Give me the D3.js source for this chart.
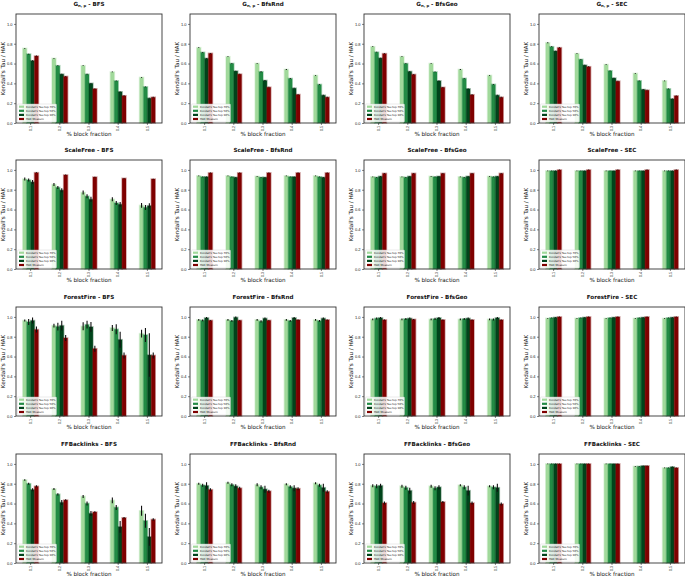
<!DOCTYPE html>
<html>
<head>
<meta charset="utf-8">
<script src="https://cdn.jsdelivr.net/npm/d3@7"></script>
<style>
  body { margin: 0; background: #fff; }
  svg { font-family: "DejaVu Sans", sans-serif; }
  .domain { display: none; }
</style>
</head>
<body>
<svg id="chart" width="685" height="578"></svg>
<script>
// categories
const fractions = ["0.1", "0.2", "0.3", "0.4", "0.5"];
const seriesNames = ["Kendall's Tau top 70%", "Kendall's Tau top 50%", "Kendall's Tau top 30%", "HAK Measure"];
const seriesColors = ["#a1d99b", "#238b45", "#00441b", "#7f0000"];
const graphNames = ["G", "ScaleFree", "ForestFire", "FFBacklinks"];
const methodNames = ["BFS", "BfsRnd", "BfsGeo", "SEC"];
const yTicks = [0, 0.2, 0.4, 0.6, 0.8, 1.0];

// values: one row per series (top70, top50, top30, HAK), one column per fraction
const gnpBFS = [[0.753, 0.652, 0.578, 0.515, 0.46], [0.696, 0.578, 0.492, 0.425, 0.365], [0.628, 0.493, 0.40, 0.315, 0.25], [0.676, 0.47, 0.345, 0.275, 0.26]];
const gnpBfsRnd = [[0.76, 0.669, 0.601, 0.54, 0.48], [0.713, 0.601, 0.517, 0.449, 0.389], [0.652, 0.524, 0.429, 0.351, 0.28], [0.703, 0.493, 0.361, 0.287, 0.26]];
const gnpBfsGeo = [[0.77, 0.67, 0.60, 0.54, 0.48], [0.715, 0.60, 0.515, 0.45, 0.39], [0.655, 0.52, 0.425, 0.345, 0.28], [0.70, 0.49, 0.36, 0.285, 0.26]];
const gnpSEC = [[0.81, 0.70, 0.59, 0.50, 0.426], [0.77, 0.642, 0.527, 0.426, 0.345], [0.726, 0.584, 0.453, 0.338, 0.243], [0.76, 0.568, 0.422, 0.331, 0.274]];

const sfBFS = [[0.908, 0.853, 0.771, 0.703, 0.642], [0.898, 0.823, 0.734, 0.666, 0.621], [0.877, 0.795, 0.703, 0.652, 0.638], [0.972, 0.949, 0.928, 0.915, 0.908]];
const sfBfsRnd = [[0.94, 0.94, 0.935, 0.94, 0.94], [0.93, 0.93, 0.925, 0.93, 0.93], [0.93, 0.925, 0.925, 0.93, 0.925], [0.97, 0.97, 0.97, 0.97, 0.97]];
const sfBfsGeo = [[0.93, 0.93, 0.935, 0.93, 0.935], [0.925, 0.925, 0.93, 0.925, 0.93], [0.935, 0.935, 0.935, 0.935, 0.935], [0.965, 0.965, 0.965, 0.965, 0.965]];
const sfSEC = [[0.99, 0.99, 0.99, 0.99, 0.99], [0.99, 0.99, 0.99, 0.99, 0.99], [0.99, 0.99, 0.99, 0.99, 0.99], [1.0, 1.0, 1.0, 1.0, 1.0]];

const ffBFS = [[0.963, 0.912, 0.905, 0.889, 0.831], [0.949, 0.902, 0.922, 0.875, 0.818], [0.963, 0.912, 0.899, 0.77, 0.615], [0.872, 0.787, 0.679, 0.611, 0.611]];
const ffBfsRnd = [[0.97, 0.97, 0.97, 0.97, 0.97], [0.965, 0.96, 0.955, 0.96, 0.96], [0.99, 0.995, 0.985, 0.99, 0.985], [0.965, 0.965, 0.965, 0.97, 0.97]];
const ffBfsGeo = [[0.975, 0.975, 0.975, 0.975, 0.975], [0.985, 0.98, 0.98, 0.98, 0.975], [0.99, 0.985, 0.99, 0.985, 0.99], [0.97, 0.975, 0.97, 0.97, 0.97]];
const ffSEC = [[0.985, 0.985, 0.985, 0.985, 0.985], [0.99, 0.99, 0.99, 0.99, 0.99], [0.995, 0.995, 0.995, 0.995, 0.995], [1.0, 1.0, 1.0, 1.0, 1.0]];

const fbBFS = [[0.838, 0.747, 0.672, 0.632, 0.527], [0.80, 0.693, 0.601, 0.561, 0.426], [0.74, 0.611, 0.50, 0.365, 0.264], [0.774, 0.635, 0.514, 0.456, 0.439]];
const fbBfsRnd = [[0.80, 0.81, 0.79, 0.795, 0.805], [0.785, 0.79, 0.765, 0.77, 0.785], [0.78, 0.775, 0.745, 0.755, 0.76], [0.74, 0.755, 0.725, 0.75, 0.72]];
const fbBfsGeo = [[0.78, 0.775, 0.775, 0.785, 0.775], [0.775, 0.76, 0.755, 0.765, 0.765], [0.78, 0.73, 0.765, 0.73, 0.76], [0.605, 0.61, 0.615, 0.605, 0.595]];
const fbSEC = [[1.0, 1.0, 1.0, 0.975, 0.96], [1.0, 1.0, 1.0, 0.975, 0.96], [1.0, 1.0, 1.0, 0.98, 0.97], [1.0, 1.0, 1.0, 0.98, 0.96]];

// error bar half-lengths, same layout
const tinyErr = [[0.004, 0.004, 0.004, 0.004, 0.004], [0.004, 0.004, 0.004, 0.004, 0.004], [0.004, 0.004, 0.004, 0.004, 0.004], [0.004, 0.004, 0.004, 0.004, 0.004]];
const sfBFSErr = [[0.015, 0.015, 0.02, 0.02, 0.025], [0.015, 0.015, 0.02, 0.02, 0.025], [0.02, 0.02, 0.025, 0.025, 0.025], [0.004, 0.004, 0.004, 0.004, 0.004]];
const ffBFSErr = [[0.01, 0.02, 0.04, 0.03, 0.04], [0.03, 0.04, 0.04, 0.05, 0.07], [0.03, 0.05, 0.05, 0.08, 0.22], [0.03, 0.03, 0.03, 0.03, 0.03]];
const ffSmallErr = [[0.008, 0.008, 0.008, 0.008, 0.008], [0.01, 0.01, 0.012, 0.01, 0.01], [0.008, 0.008, 0.01, 0.01, 0.01], [0.005, 0.005, 0.005, 0.005, 0.005]];
const fbBFSErr = [[0.008, 0.01, 0.015, 0.03, 0.05], [0.01, 0.012, 0.02, 0.025, 0.07], [0.015, 0.025, 0.025, 0.06, 0.09], [0.01, 0.008, 0.008, 0.008, 0.012]];
const fbBfsRndErr = [[0.01, 0.01, 0.015, 0.01, 0.01], [0.015, 0.015, 0.02, 0.015, 0.015], [0.035, 0.02, 0.035, 0.03, 0.04], [0.015, 0.015, 0.015, 0.015, 0.015]];
const fbBfsGeoErr = [[0.015, 0.015, 0.015, 0.01, 0.01], [0.02, 0.02, 0.02, 0.02, 0.02], [0.02, 0.03, 0.02, 0.05, 0.04], [0.015, 0.015, 0.01, 0.015, 0.015]];

const panelValues = [
    [gnpBFS, gnpBfsRnd, gnpBfsGeo, gnpSEC],
    [sfBFS, sfBfsRnd, sfBfsGeo, sfSEC],
    [ffBFS, ffBfsRnd, ffBfsGeo, ffSEC],
    [fbBFS, fbBfsRnd, fbBfsGeo, fbSEC]
];
const panelErrors = [
    [tinyErr, tinyErr, tinyErr, tinyErr],
    [sfBFSErr, tinyErr, tinyErr, tinyErr],
    [ffBFSErr, ffSmallErr, ffSmallErr, tinyErr],
    [fbBFSErr, fbBfsRndErr, fbBfsGeoErr, tinyErr]
];

const svg = d3.select("#chart");
const plotW = 146, plotH = 109;
const colLeft = [16, 190, 364, 539];
const rowTop = [14, 160, 307, 454];

/**
 * Draws one small bar chart panel
 */
function drawPanel(row, col){
    let values = panelValues[row][col];
    let errors = panelErrors[row][col];
    let g = svg.append("g").attr("transform", `translate(${colLeft[col]},${rowTop[row]})`);

    let x = d3.scaleBand().domain(fractions).range([0, plotW]);
    let inner = d3.scaleBand().domain(d3.range(4)).range([-7.8, 7.8]);
    let y = d3.scaleLinear().domain([0, 1.1]).range([plotH, 0]);

    // bars, with a soft halo like the anti-aliased original
    for(let s = 0; s < 4; s++){
        fractions.forEach((f, i) => {
            let bx = x(f) + x.bandwidth() / 2 + inner(s);
            g.append("rect")
                .attr("x", bx)
                .attr("y", y(values[s][i]))
                .attr("width", inner.bandwidth())
                .attr("height", plotH - y(values[s][i]))
                .attr("fill", seriesColors[s])
                .attr("stroke", seriesColors[s])
                .attr("stroke-opacity", 0.35)
                .attr("stroke-width", 1.6);
        });
    }
    // error bars
    for(let s = 0; s < 4; s++){
        fractions.forEach((f, i) => {
            let cx = x(f) + x.bandwidth() / 2 + inner(s) + inner.bandwidth() / 2;
            g.append("line")
                .attr("x1", cx).attr("x2", cx)
                .attr("y1", y(values[s][i] - errors[s][i]))
                .attr("y2", y(values[s][i] + errors[s][i]))
                .attr("stroke", "#111")
                .attr("stroke-width", 1.1);
        });
    }

    // axes
    let yAxis = g.append("g").call(d3.axisLeft(y).tickValues(yTicks).tickFormat(d3.format(".1f")).tickSize(2).tickPadding(1.5));
    yAxis.selectAll("text").style("font-size", "4px").attr("fill", "#222");
    yAxis.selectAll("line").attr("stroke", "#333").attr("stroke-width", 0.6);

    let xAxis = g.append("g").attr("transform", `translate(0,${plotH})`)
        .call(d3.axisBottom(x).tickSize(2).tickPadding(1.5));
    xAxis.selectAll("text")
        .style("font-size", "3.6px").attr("fill", "#222")
        .attr("transform", "rotate(-90)")
        .attr("text-anchor", "end")
        .attr("x", -3).attr("y", 0).attr("dy", "0.35em");
    xAxis.selectAll("line").attr("stroke", "#333").attr("stroke-width", 0.6);

    // frame
    g.append("rect")
        .attr("width", plotW).attr("height", plotH)
        .attr("fill", "none").attr("stroke", "#333").attr("stroke-width", 0.9);

    // axis labels
    g.append("text")
        .attr("x", plotW / 2).attr("y", plotH + 13.4)
        .attr("text-anchor", "middle")
        .style("font-size", "5.6px").attr("fill", "#111")
        .text("% block fraction");
    g.append("text")
        .attr("transform", `translate(-11,${plotH / 2}) rotate(-90)`)
        .attr("text-anchor", "middle")
        .style("font-size", "5.6px").attr("fill", "#111")
        .text("Kendall's Tau / HAK");

    // title
    let title = g.append("text")
        .attr("x", plotW / 2).attr("y", -8.5)
        .attr("text-anchor", "middle")
        .style("font-size", "5.6px").style("font-weight", "bold").attr("fill", "#111");
    title.append("tspan").text(graphNames[row]);
    if(row == 0){
        title.append("tspan").attr("dy", 1.6).style("font-size", "3.8px").text("n, p");
        title.append("tspan").attr("dy", -1.6).text(" - " + methodNames[col]);
    } else {
        title.append("tspan").text(" - " + methodNames[col]);
    }

    // legend, lower left inside the plot
    let lg = g.append("g").attr("transform", `translate(1.5,${plotH - 19})`);
    lg.append("rect")
        .attr("width", 39).attr("height", 18).attr("rx", 0.8)
        .attr("fill", "#fff").attr("fill-opacity", 0.85)
        .attr("stroke", "#ccc").attr("stroke-width", 0.4);
    seriesNames.forEach((name, s) => {
        lg.append("rect")
            .attr("x", 1.5).attr("y", 1.6 + s * 4.1)
            .attr("width", 5).attr("height", 2.2)
            .attr("fill", seriesColors[s]);
        lg.append("text")
            .attr("x", 8.5).attr("y", 3.6 + s * 4.1)
            .style("font-size", "2.7px").attr("fill", "#111")
            .text(name);
    });
}

for(let r = 0; r < 4; r++){
    for(let c = 0; c < 4; c++){
        drawPanel(r, c);
    }
}
</script>
</body>
</html>
